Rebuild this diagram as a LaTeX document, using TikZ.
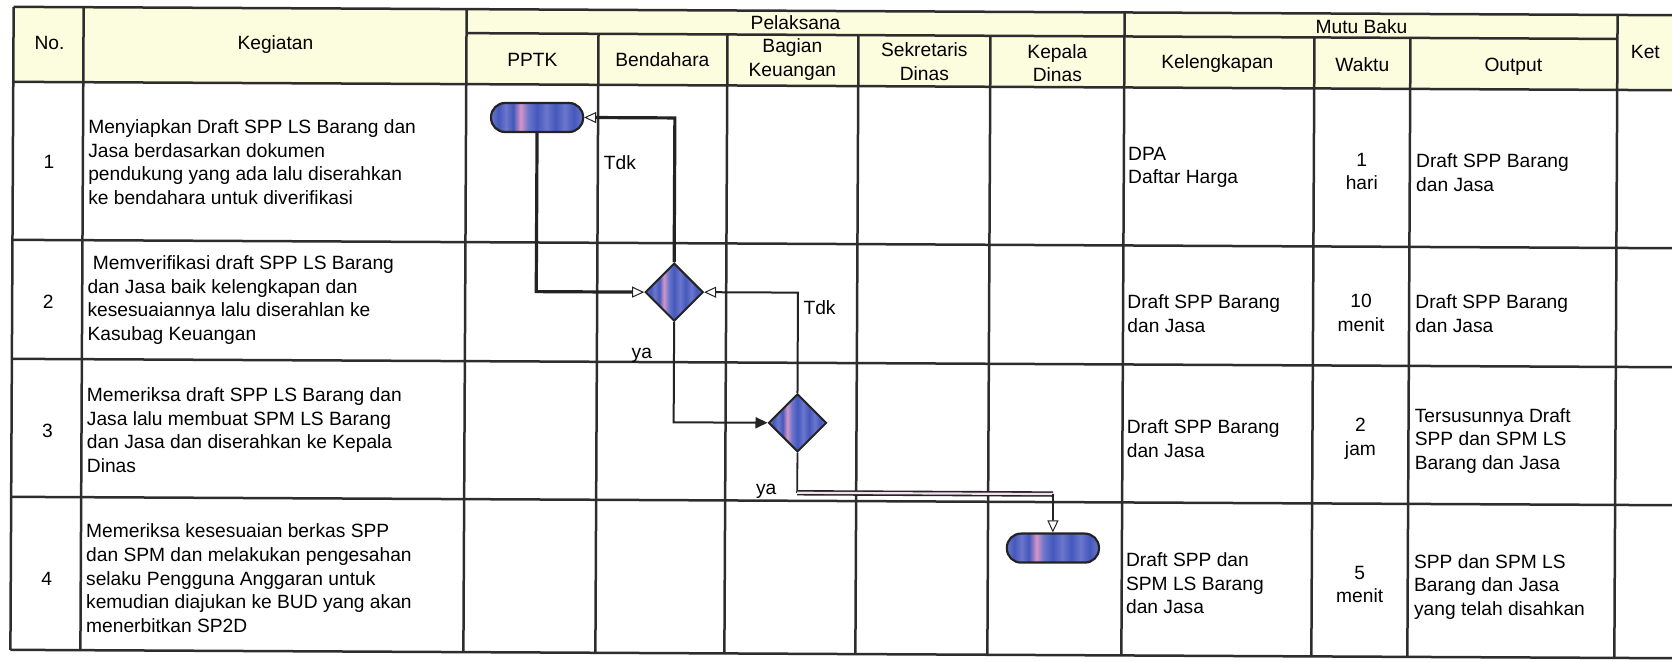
\documentclass[tikz,border=0pt]{standalone}
\usepackage{fontspec}
\setmainfont{Liberation Sans}
\usetikzlibrary{arrows.meta,shapes.geometric}

\definecolor{hdr}{RGB}{252,252,222}
\definecolor{gridc}{RGB}{45,45,45}
\definecolor{fbA}{RGB}{68,88,188}
\definecolor{fbB}{RGB}{108,118,204}
\definecolor{fpk}{RGB}{214,150,198}
\definecolor{linec}{RGB}{35,35,35}

\pgfdeclarehorizontalshading{flowshade}{100bp}{color(0bp)=(fbB); color(25bp)=(fbB); color(29bp)=(fbA); color(33bp)=(fbB); color(37bp)=(fbA); color(41bp)=(fpk); color(45bp)=(fbB); color(50bp)=(fbA); color(55bp)=(fbB); color(60bp)=(fbA); color(65bp)=(fbB); color(70bp)=(fbA); color(75bp)=(fbB); color(100bp)=(fbB)}

\tikzset{
  bodyfont/.style={font=\fontsize{9.6}{11.8}\selectfont},
  txt/.style={bodyfont, inner sep=0pt, align=left, anchor=west},
  ctr/.style={bodyfont, inner sep=0pt, align=center},
  gridl/.style={draw=gridc, line width=1.25pt},
  termbox/.style={draw=linec, line width=1.1pt, rounded corners=7pt, minimum width=46pt, minimum height=14.5pt, inner sep=0pt, shading=flowshade},
  decbox/.style={diamond, draw=linec, line width=1pt, minimum width=29pt, minimum height=29pt, inner sep=0pt, shading=flowshade},
  conn/.style={draw=linec, line width=1pt},
  thickconn/.style={draw=linec, line width=1.6pt},
  openarr/.style={-{Triangle[length=6pt,width=5.5pt,fill=white,line width=0.5pt]}},
  fullarr/.style={-{Triangle[length=6pt,width=5.5pt]}},
}

\begin{document}
\begin{tikzpicture}[x=0.5pt,y=-0.5pt]
\useasboundingbox (0,0) rectangle (1672,662);
\begin{scope}[rotate around={-0.29:(836,331)}]
% header background
\fill[hdr] (12,11) rectangle (1690,86);
% horizontal lines
\draw[gridl] (12,11) -- (1690,11);
\draw[gridl] (465,35) -- (1616,35);
\draw[gridl] (12,86) -- (1690,86);
\draw[gridl] (12,244) -- (1690,244);
\draw[gridl] (12,363) -- (1690,363);
\draw[gridl] (12,501) -- (1690,501);
\draw[gridl] (12,654) -- (1690,654);
% vertical lines
\foreach \xx in {12,82,465,1123,1616} {\draw[gridl] (\xx,11) -- (\xx,654);}
\foreach \xx in {597,726,857,989,1313,1409} {\draw[gridl] (\xx,35) -- (\xx,654);}

% header texts
\node[ctr] (hNo) at (48,47) {No.};
\node[ctr] (hKeg) at (274,47) {Kegiatan};
\node[ctr] (hPel) at (794,23) {Pelaksana};
\node[ctr] (hPPTK) at (531,61) {PPTK};
\node[ctr] (hBend) at (661,61) {Bendahara};
\node[ctr] (hBag) at (791,60) {Bagian\\Keuangan};
\node[ctr] (hSek) at (923,61) {Sekretaris\\Dinas};
\node[ctr] (hKep) at (1056,62) {Kepala\\Dinas};
\node[ctr] (hMutu) at (1360,24) {Mutu Baku};
\node[ctr] (hKel) at (1216,62) {Kelengkapan};
\node[ctr] (hWak) at (1361,62) {Waktu};
\node[ctr] (hOut) at (1512,63) {Output};
\node[ctr] (hKet) at (1644,48) {Ket};

% No.
\node[ctr] (n1) at (48,166) {1};
\node[ctr] (n2) at (48,306) {2};
\node[ctr] (n3) at (48,435) {3};
\node[ctr] (n4) at (48,583) {4};

% Kegiatan
\node[txt] (k1) at (87,166) {Menyiapkan Draft SPP LS Barang dan\\Jasa berdasarkan dokumen\\pendukung yang ada lalu diserahkan\\ke bendahara untuk diverifikasi};
\node[txt] (k2) at (87,304) {\hspace*{2.7pt}Memverifikasi draft SPP LS Barang\\dan Jasa baik kelengkapan dan\\kesesuaiannya lalu diserahlan ke\\Kasubag Keuangan};
\node[txt] (k3) at (87,434) {Memeriksa draft SPP LS Barang dan\\Jasa lalu membuat SPM LS Barang\\dan Jasa dan diserahkan ke Kepala\\Dinas};
\node[txt] (k4) at (87,582) {Memeriksa kesesuaian berkas SPP\\dan SPM dan melakukan pengesahan\\selaku Pengguna Anggaran untuk\\kemudian diajukan ke BUD yang akan\\menerbitkan SP2D};

% Kelengkapan
\node[txt] (c1) at (1127,166) {DPA\\Daftar Harga};
\node[txt] (c2) at (1127,312) {Draft SPP Barang\\dan Jasa};
\node[txt] (c3) at (1127,437) {Draft SPP Barang\\dan Jasa};
\node[txt] (c4) at (1127,582) {Draft SPP dan\\SPM LS Barang\\dan Jasa};

% Waktu
\node[ctr] (w1) at (1361,169) {1\\hari};
\node[ctr] (w2) at (1361,310) {10\\menit};
\node[ctr] (w3) at (1361,436) {2\\jam};
\node[ctr] (w4) at (1361,582) {5\\menit};

% Output
\node[txt] (o1) at (1415,170) {Draft SPP Barang\\dan Jasa};
\node[txt] (o2) at (1415,311) {Draft SPP Barang\\dan Jasa};
\node[txt] (o3) at (1415,438) {Tersusunnya Draft\\SPP dan SPM LS\\Barang dan Jasa};
\node[txt] (o4) at (1415,584) {SPP dan SPM LS\\Barang dan Jasa\\yang telah disahkan};

% flowchart shapes
\node[termbox] (t1) at (536,119) {};
\node[decbox] (d1) at (674,293) {};
\node[decbox] (d2) at (798,423) {};
\node[termbox] (t2) at (1054,547) {};

% connectors
\draw[thickconn,openarr] (t1.south) |- (d1.west);
\draw[thickconn,openarr] (d1.north) |- (t1.east);
\draw[conn,openarr] (d2.north) |- (d1.east);
\draw[conn,fullarr] (d1.south) |- (d2.west);
\coordinate (k1c) at (798,493);
\coordinate (k2c) at (1054,493);
\draw[conn,line width=0.9pt] (d2.south) -- (k1c);
\draw[draw=linec, line width=0.8pt, double=fpk!30!white, double distance=1.1pt] (k1c) -- (k2c);
\draw[conn,line width=0.9pt,openarr] (k2c) -- (t2.north);

% labels
\node[ctr] (lt1) at (619,164) {Tdk};
\node[txt] (lt2) at (803,308) {Tdk};
\node[ctr] (ly1) at (642,356) {ya};
\node[ctr] (ly2) at (767,492) {ya};
\end{scope}
\end{tikzpicture}
\end{document}
